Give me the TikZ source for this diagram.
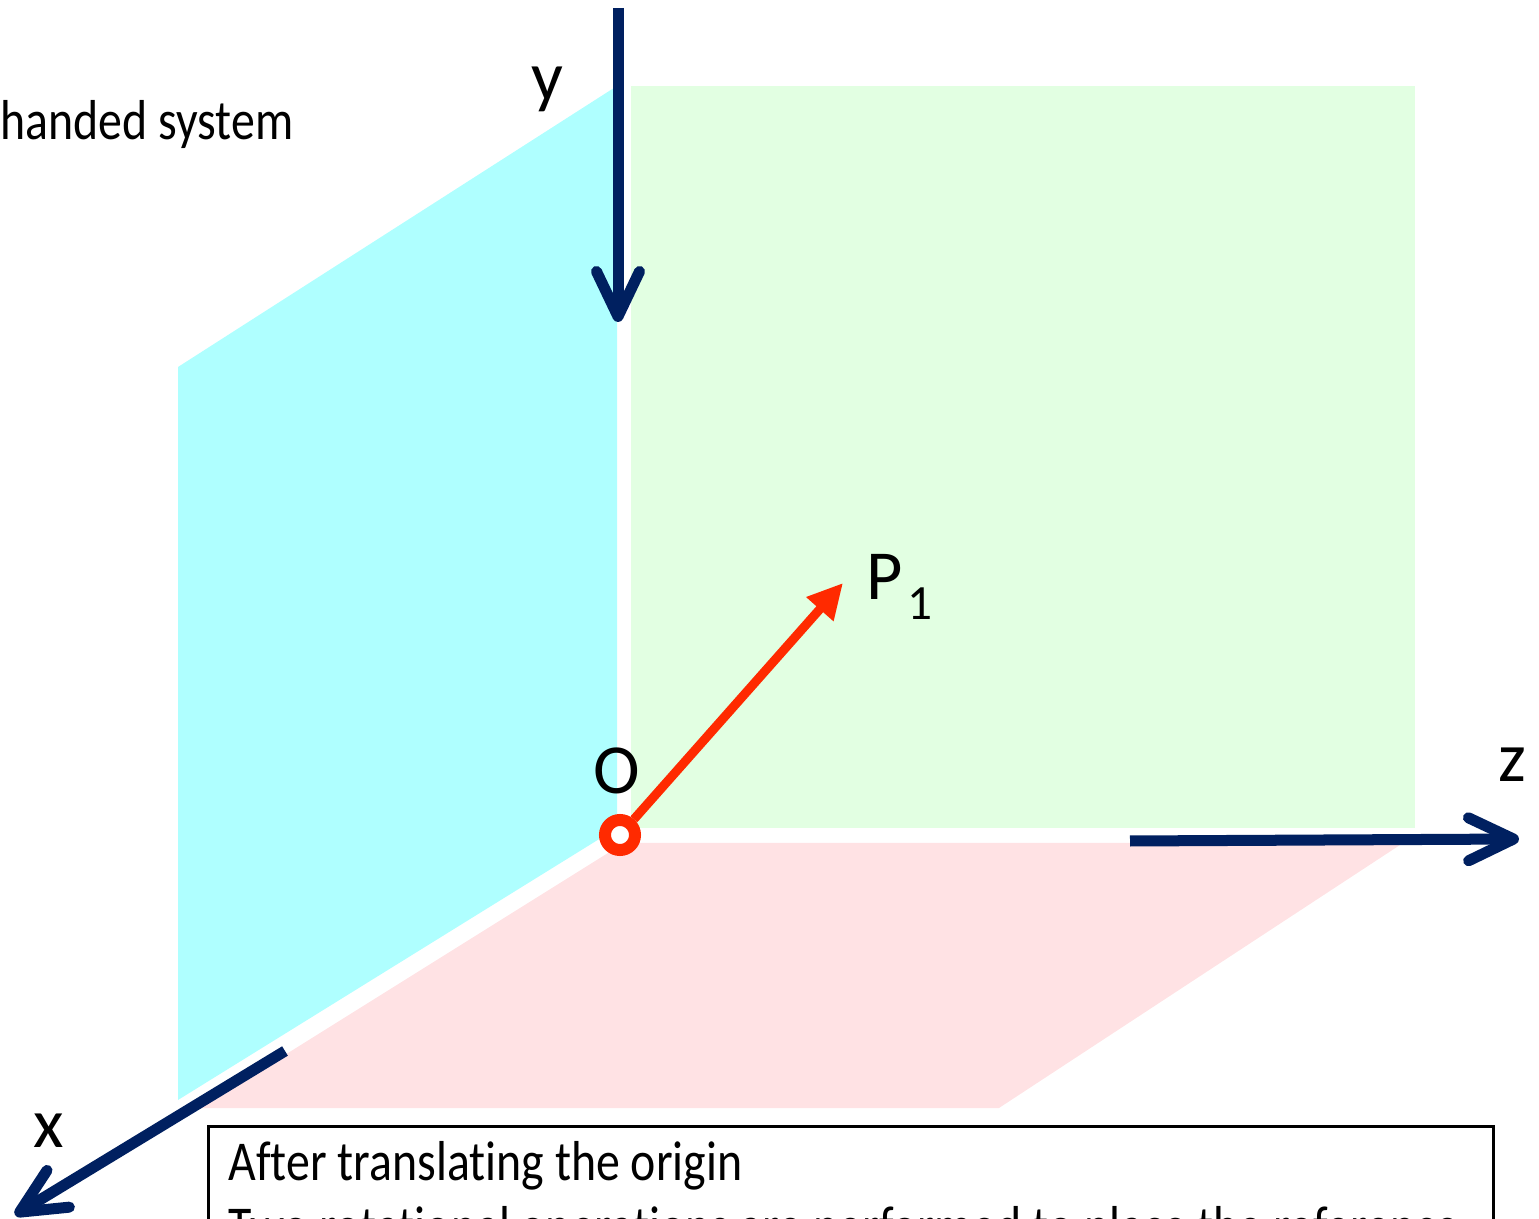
\documentclass[tikz,border=0pt]{standalone}
\usepackage{fontspec}
\setmainfont{Carlito}[Ligatures=NoCommon]
\newfontfamily\notefont{Carlito}[FakeStretch=0.85, Ligatures=NoCommon]
\usepackage{tikz}
\usetikzlibrary{arrows.meta,positioning}
\definecolor{axisnavy}{RGB}{0, 32, 96}
\definecolor{vecred}{RGB}{255, 42, 0}
\definecolor{yzplane}{RGB}{175, 255, 255}
\definecolor{xyplane}{RGB}{226, 255, 226}
\definecolor{xzplane}{RGB}{255, 226, 228}

\begin{document}
\begin{tikzpicture}[
    x=0.01cm, y=-0.01cm,
    axis/.style={draw=axisnavy, line width=1.1mm, -{Straight Barb[round, length=4.5mm, width=4.3mm]}},
    vector/.style={draw=vecred, line width=0.9mm, -{Triangle[length=3.5mm, width=3.4mm]}},
    origin/.style={circle, draw=vecred, fill=white, line width=1.2mm, minimum size=3mm, inner sep=0pt},
    axislabel/.style={font=\fontsize{20}{24}\selectfont, inner sep=0pt},
    textline/.style={font=\notefont\fontsize{16}{19}\selectfont, inner sep=0pt, anchor=base west}
]
    \useasboundingbox (0,0) rectangle (1539,1219);
    \clip (0,0) rectangle (1539,1219);

    % Coordinate planes
    \fill[yzplane] (178,367) -- (617,86) -- (617,828) -- (178,1100) -- cycle;
    \fill[xyplane] (631,86) rectangle (1415,828);
    \fill[xzplane] (624,843) -- (1403,843) -- (999,1108) -- (200,1108) -- cycle;

    % Axis end points
    \coordinate (ystart) at (618,8);
    \coordinate (yend) at (618,322);
    \coordinate (zstart) at (1130,841);
    \coordinate (zend) at (1519,839);
    \coordinate (xstart) at (285,1051);
    \coordinate (xend) at (15,1215);
    \coordinate (ptip) at (843,583);

    % Axes
    \draw[axis] (ystart) -- (yend);
    \draw[axis] (zstart) -- (zend);
    \draw[axis] (xstart) -- (xend);

    % Origin and position vector
    \node[origin] (O) at (620,835) {};
    \draw[vector] (O) -- (ptip);

    % Labels
    \node[axislabel, anchor=base] (ylab) at (547,101) {y};
    \node[axislabel] (xlab) at (49,1131) {x};
    \node[axislabel] (zlab) at (1512,765) {z};
    \node[axislabel] (olab) at (617,771) {O};
    \node[axislabel, anchor=base west] (plab) at (866,600) {P\kern0.04cm\raisebox{-0.19cm}{\fontsize{14}{14}\selectfont 1}};
    \node[textline] (title) at (0,140) {handed system};

    % Note box
    \draw[black, line width=0.3mm] (208,1300) -- (208,1126) -- (1493,1126) -- (1493,1300);
    \node[textline] (note1) at (228,1180) {After translating the origin};
    \node[textline] (note2) at (228,1245) {Two rotational operations are performed to place the reference};

\end{tikzpicture}
\end{document}
